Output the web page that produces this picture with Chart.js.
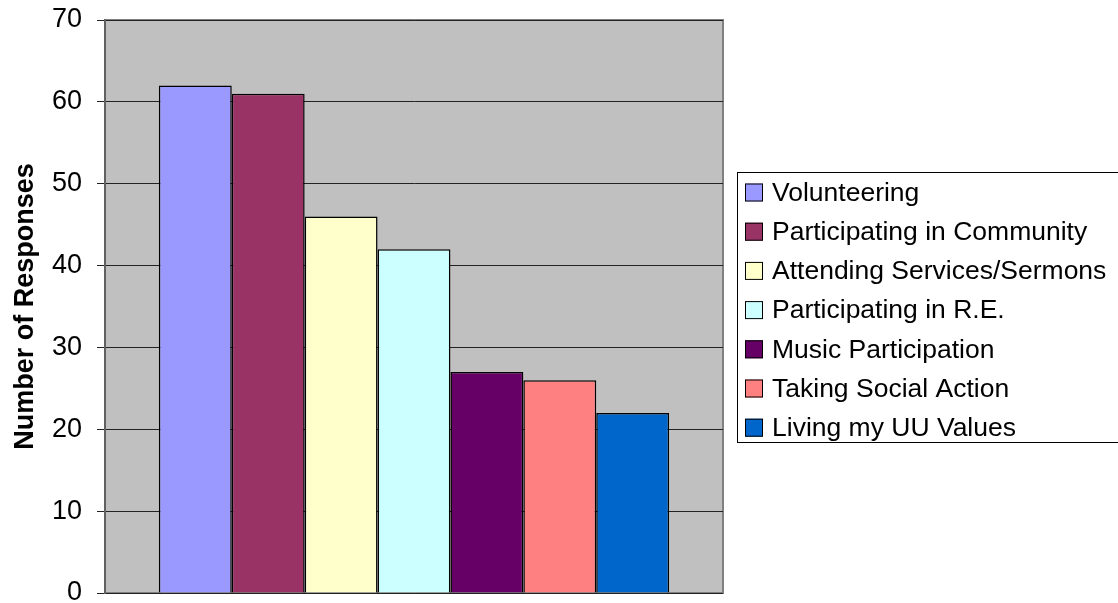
<!DOCTYPE html>
<html>
<head>
<meta charset="utf-8">
<script src="https://cdn.jsdelivr.net/npm/chart.js@4"></script>
<style>
  html, body { margin: 0; padding: 0; background: #ffffff; }
  #wrap { width: 1118px; height: 603px; }
</style>
</head>
<body>
<div id="wrap"><canvas id="chart" width="1118" height="603"></canvas></div>
<script>
const CATEGORIES = ['Volunteering', 'Participating in Community', 'Attending Services/Sermons',
  'Participating in R.E.', 'Music Participation', 'Taking Social Action', 'Living my UU Values'];
const RESPONSES = [62, 61, 46, 42, 27, 26, 22];
const COLORS = ['#9999FF', '#993366', '#FFFFCC', '#CCFFFF', '#660066', '#FF8080', '#0066CC'];
const Y_MIN = 0;
const Y_MAX = 70;
const Y_STEP = 10;

const FONT = '"Liberation Sans", Arial, sans-serif';

// grey plot area with a frame, like the old spreadsheet charts
const plotBackground = {
  id: 'plotBackground',
  beforeDraw(chart) {
    const { ctx, chartArea: a } = chart;
    ctx.save();
    ctx.fillStyle = '#C0C0C0';
    ctx.fillRect(a.left, a.top, a.right - a.left, a.bottom - a.top);
    ctx.strokeStyle = '#808080';
    ctx.lineWidth = 2;
    ctx.strokeRect(a.left, a.top, a.right - a.left, a.bottom - a.top);
    ctx.restore();
  },
};

// legend with a black box around it, sitting right of the plot
const boxedLegend = {
  id: 'boxedLegend',
  afterDraw(chart) {
    const { ctx, chartArea: a } = chart;
    const left = a.right + 14;
    const top = 172;
    const bottom = 442;
    const rowGap = 39.2;
    const firstRow = 192.5;
    ctx.save();
    ctx.fillStyle = '#ffffff';
    ctx.fillRect(left, top, 500, bottom - top);
    ctx.strokeStyle = '#000000';
    ctx.lineWidth = 1;
    ctx.strokeRect(left + 0.5, top + 0.5, 500, bottom - top);
    ctx.font = `26.5px ${FONT}`;
    ctx.textBaseline = 'middle';
    ctx.textAlign = 'left';
    chart.data.datasets.forEach((ds, i) => {
      const cy = firstRow + i * rowGap;
      ctx.fillStyle = ds.backgroundColor;
      ctx.fillRect(left + 8, cy - 9, 18, 18);
      ctx.strokeRect(left + 8.5, cy - 8.5, 17, 17);
      ctx.fillStyle = '#000000';
      ctx.fillText(ds.label, left + 35, cy + 1);
    });
    ctx.restore();
  },
};

const datasets = CATEGORIES.map((label, i) => ({
  label,
  data: [RESPONSES[i]],
  backgroundColor: COLORS[i],
  borderColor: '#000000',
  borderWidth: 1.5,
  borderSkipped: 'bottom',
  barPercentage: 1,
  categoryPercentage: 0.8257,
}));

new Chart(document.getElementById('chart'), {
  type: 'bar',
  data: { labels: [''], datasets },
  options: {
    responsive: false,
    animation: false,
    layout: {
      autoPadding: false,
      padding: { left: 0, right: 395, top: 20, bottom: 10 },
    },
    plugins: {
      legend: { display: false },
      tooltip: { enabled: false },
    },
    scales: {
      x: { display: false },
      y: {
        min: Y_MIN,
        max: Y_MAX,
        afterFit(scale) {
          scale.width = 105;
          scale.paddingTop = 0;
          scale.paddingBottom = 0;
        },
        ticks: {
          stepSize: Y_STEP,
          padding: 15,
          color: '#000000',
          font: { family: FONT, size: 27 },
        },
        grid: {
          color: '#222222',
          lineWidth: 1,
          tickLength: 8,
          drawTicks: true,
        },
        border: { display: true, color: '#606060', width: 2 },
        title: {
          display: true,
          text: 'Number of Responses',
          color: '#000000',
          font: { family: FONT, size: 27, weight: 'bold' },
          padding: { top: 9, bottom: 0 },
        },
      },
    },
  },
  plugins: [plotBackground, boxedLegend],
});
</script>
</body>
</html>
